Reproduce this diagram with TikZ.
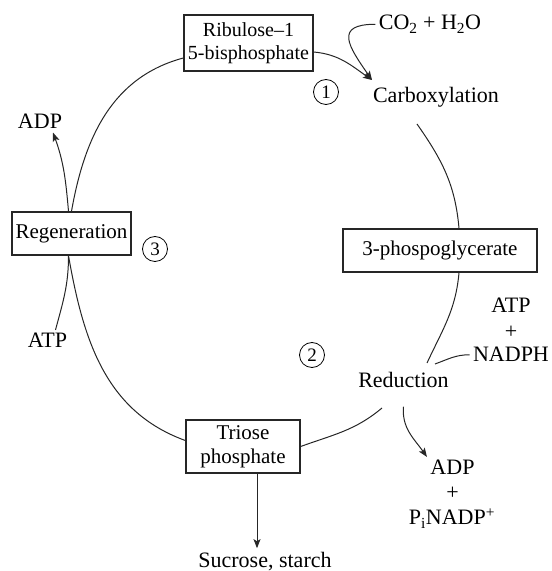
\documentclass[tikz,border=0pt]{standalone}
\usepackage{fontspec}
\setmainfont{Liberation Serif}
\usepackage{tikz}
\usetikzlibrary{positioning}
\usetikzlibrary{arrows.meta}
\tikzset{
   linePlain/.style={draw=black!85, line width=1pt},
   lineWithArrow/.style={draw=black!85, line width=1pt, -{Stealth[length=9pt,width=7pt,inset=2pt]}},
   stageBox/.style={draw=black!85, line width=1.4pt, shape=rectangle, inner sep=0pt, align=center},
   stepNumber/.style={draw, shape=circle, minimum size=25pt, inner sep=0pt, line width=0.8pt, font=\fontsize{19}{19}\selectfont},
   plainText/.style={anchor=base, font=\fontsize{22}{24}\selectfont},
}

\begin{document}
\begin{tikzpicture}[x=1pt,y=1pt]
  \useasboundingbox (0,0) rectangle (552,571);
  %
  \node[stageBox, minimum width=129pt, minimum height=56pt, font=\fontsize{20}{23}\selectfont] (rubpBox) at (248.5,528) {Ribulose--1\\5-bisphosphate};
  \node[stageBox, minimum width=194pt, minimum height=43pt, font=\fontsize{21}{24}\selectfont] (pgaBox) at (440,320.5) {3-phospoglycerate};
  \node[stageBox, minimum width=114pt, minimum height=53pt, font=\fontsize{21}{24}\selectfont] (trioseBox) at (243,124.5) {Triose\\phosphate};
  \node[stageBox, minimum width=119pt, minimum height=43pt, font=\fontsize{21}{24}\selectfont] (regenBox) at (71.5,337.5) {Regeneration};
  %
  \node[plainText] (co2) at (430,541) {CO\textsubscript{2} + H\textsubscript{2}O};
  \node[plainText] (carbox) at (436,468) {Carboxylation};
  \node[plainText] (atpRight) at (511,258) {ATP};
  \node[plainText, anchor=center] (plusRight) at (511,239) {+};
  \node[plainText] (nadph) at (511,209) {NADPH};
  \node[plainText] (reduction) at (403.5,183) {Reduction};
  \node[plainText] (adpRight) at (452.5,96) {ADP};
  \node[plainText, anchor=center] (plusLow) at (452.5,78) {+};
  \node[plainText] (pinadp) at (452,46) {P\textsubscript{i}NADP\textsuperscript{+}};
  \node[plainText] (sucrose) at (265,4) {Sucrose, starch};
  \node[plainText] (atpLeft) at (47.5,223) {ATP};
  \node[plainText] (adpLeft) at (40,442) {ADP};
  %
  \node[stepNumber] (stepOne) at (326,479) {1};
  \node[stepNumber] (stepTwo) at (312,216) {2};
  \node[stepNumber] (stepThree) at (155,322) {3};
  %
  \coordinate (carbTip) at (372,491);
  \coordinate (carbLow) at (417,447);
  \coordinate (redTop) at (427,208);
  \coordinate (redLow) at (382,163);
  \coordinate (nadphEnd) at (435,207);
  %
  % the cycle
  \draw[lineWithArrow] ([yshift=-9pt]rubpBox.east) to[out=-5,in=145] (carbTip);
  \draw[lineWithArrow] (co2.west) to[out=180,in=125,looseness=1.9] (carbTip);
  \draw[linePlain] (carbLow) to[out=-55,in=95] ([xshift=19pt]pgaBox.north);
  \draw[linePlain] ([xshift=19pt]pgaBox.south) to[out=-95,in=65] (redTop);
  \draw[linePlain] (redLow) to[out=-140,in=20] (trioseBox.east);
  \draw[linePlain] ([yshift=6pt]trioseBox.west) to[out=160,in=-80] ([xshift=-3pt]regenBox.south);
  \draw[linePlain] (regenBox.north) to[out=80,in=195] ([yshift=-15pt]rubpBox.west);
  %
  % side branches
  \draw[lineWithArrow] ([xshift=-3pt]regenBox.north) to[out=95,in=-70] ([xshift=13pt]adpLeft.south);
  \draw[linePlain] ([xshift=-3pt]regenBox.south) to[out=-90,in=75] ([xshift=8pt]atpLeft.north);
  \draw[linePlain] (nadph.west) to[out=180,in=20] (nadphEnd);
  \draw[lineWithArrow] ([yshift=-15pt]reduction.south) to[out=-95,in=125] (adpRight.north west);
  \draw[lineWithArrow] ([xshift=14pt]trioseBox.south) -- ([xshift=14pt]trioseBox.south |- sucrose.north);
\end{tikzpicture}
\end{document}
